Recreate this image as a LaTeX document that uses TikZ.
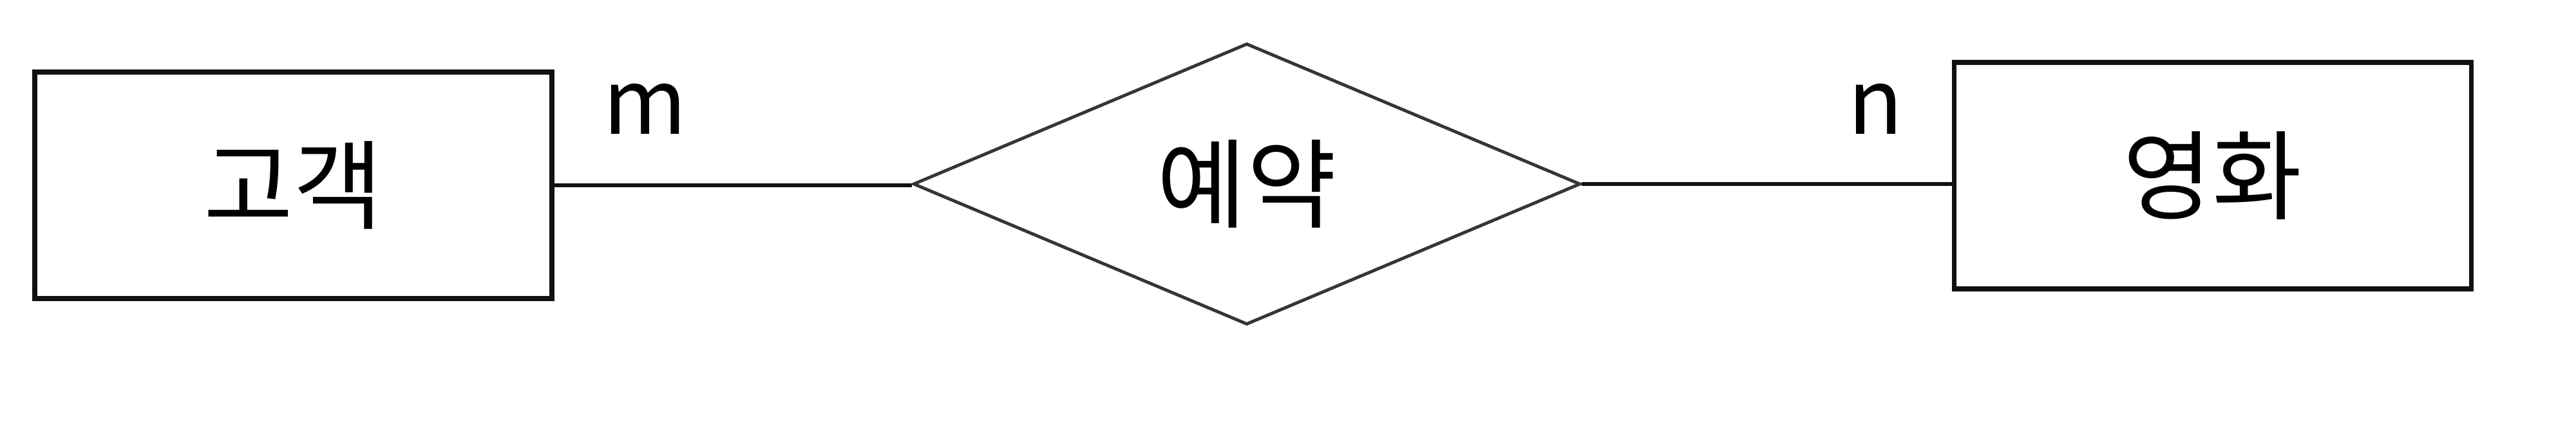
\documentclass[tikz,border=0pt]{standalone}
\usepackage{fontspec}
\newfontfamily\krfont{Noto Sans CJK KR}
\usetikzlibrary{shapes.geometric,positioning}
\definecolor{ink}{HTML}{111111}
\tikzset{
  every picture/.style={line join=miter},
  entity/.style={draw=ink, line width=2pt, minimum width=8.03cm, minimum height=3.52cm,
    inner sep=0pt, font=\krfont\fontsize{43}{43}\selectfont},
  relation/.style={diamond, draw=ink!85, line width=1.4pt, minimum width=10.36cm,
    minimum height=4.37cm, inner sep=0pt, font=\krfont\fontsize{43}{43}\selectfont},
  link/.style={draw=ink, line width=1.7pt},
  card/.style={font=\krfont\fontsize{40}{40}\selectfont, anchor=base, inner sep=0pt},
}
\begin{document}
\begin{tikzpicture}
  \useasboundingbox (0,0) rectangle (40,-6.73);
  % entities and the relationship
  \node[entity] (cust) at (4.555,-2.88) {고객};
  \node[relation] (book) at (19.36,-2.86) {예약};
  \node[entity] (movie) at (34.355,-2.73) {영화};
  % connectors
  \draw[link] (cust.east) -- (cust.east -| book.west);
  \draw[link] (book.east) -- (book.east -| movie.west);
  % cardinalities
  \node[card] (cm) at (10.02,-2.09) {m};
  \node[card] (cn) at (29.12,-2.09) {n};
\end{tikzpicture}
\end{document}
